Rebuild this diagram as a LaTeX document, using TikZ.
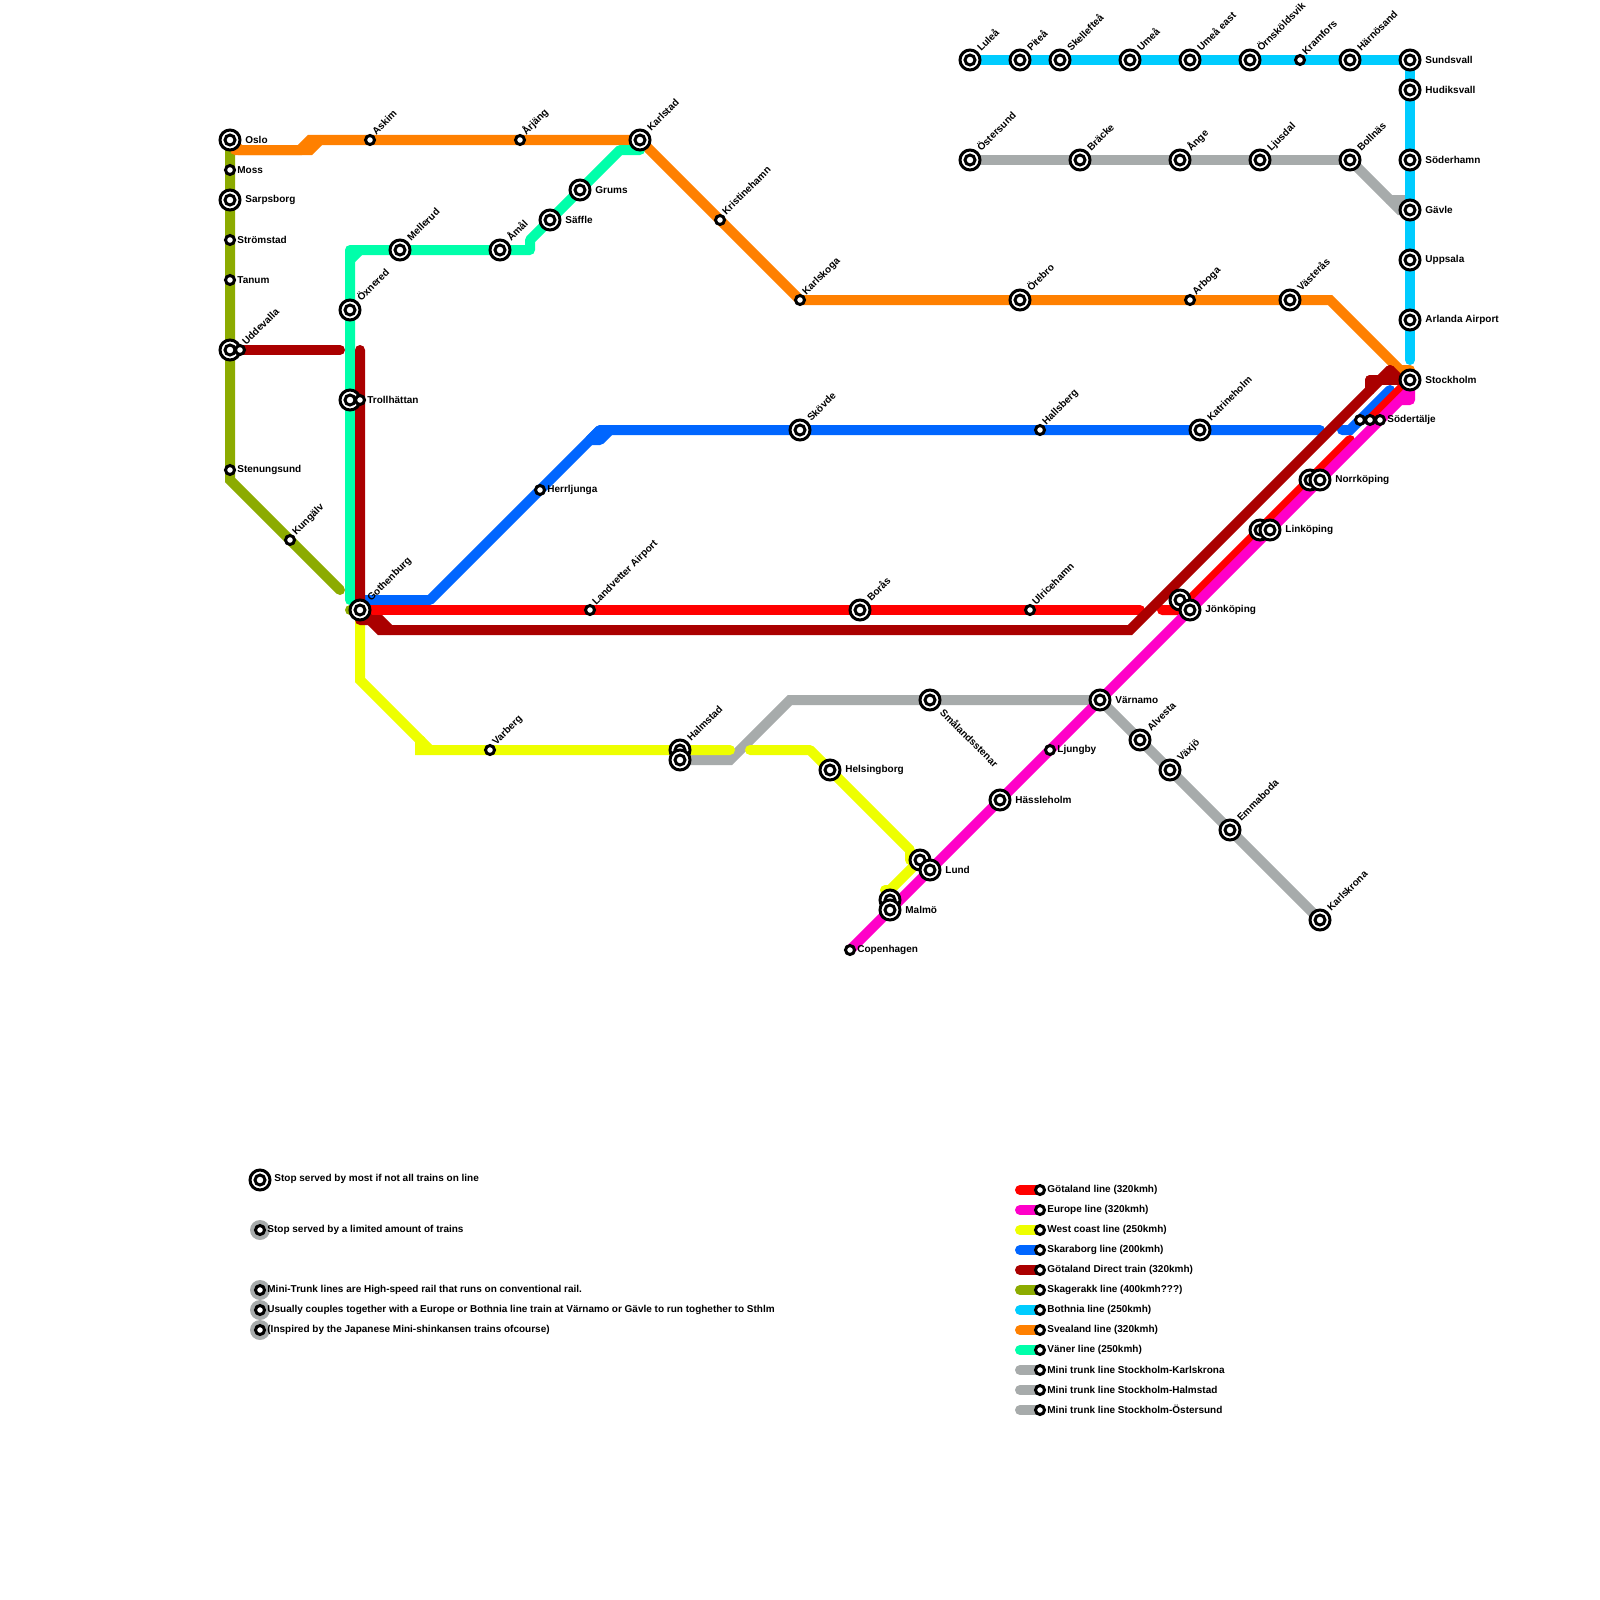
\documentclass[tikz,border=0pt]{standalone}
\usepackage{fontspec}
\usetikzlibrary{calc}
\setmainfont{Liberation Sans}
\definecolor{cRed}{HTML}{FF0000}
\definecolor{cMag}{HTML}{FF00C8}
\definecolor{cYel}{HTML}{EEFF00}
\definecolor{cBlu}{HTML}{0066FF}
\definecolor{cDrd}{HTML}{AA0000}
\definecolor{cOli}{HTML}{8CAB00}
\definecolor{cCya}{HTML}{00CCFF}
\definecolor{cOra}{HTML}{FF8000}
\definecolor{cGrn}{HTML}{00FFAA}
\definecolor{cGry}{HTML}{A7ABAB}
\tikzset{
  route/.style={line width=5pt,line cap=round,line join=miter},
  soft/.style={line join=round},
  bigstop/.style={circle,draw=black,fill=white,line width=1.5pt,minimum size=10pt,inner sep=0pt,outer sep=0pt},
  bigcore/.style={circle,draw=black,fill=white,line width=1.5pt,minimum size=5pt,inner sep=0pt,outer sep=0pt},
  smallstop/.style={circle,draw=black,fill=white,line width=1.5pt,minimum size=4.5pt,inner sep=0pt,outer sep=0pt},
  halo/.style={circle,fill=cGry,minimum size=10pt,inner sep=0pt,outer sep=0pt},
  txt/.style={font=\fontsize{5}{6}\selectfont\bfseries,inner sep=0pt,text=black},
  ltxt/.style={txt,anchor=west},
  rtxt/.style={txt,anchor=base west,rotate=45},
  dtxt/.style={txt,anchor=base west,rotate=-45}
}
\begin{document}
\begin{tikzpicture}[x=0.5pt,y=-0.5pt]
\useasboundingbox (0,0) rectangle (1600,1600);
% stations
\foreach \n/\x/\y in {oslo/230/140,moss/230/170,sarp/230/200,strom/230/240,tanum/230/280,udde/230/350,uddeb/240/350,sten/230/470,kung/290/540,
 askim/370/140,arjang/520/140,karlstad/640/140,krist/720/220,karlsk/800/300,orebro/1020/300,arboga/1190/300,vast/1290/300,
 oxne/350/310,troll/350/400,trollb/360/400,mell/400/250,amal/500/250,saffle/550/220,grums/580/190,
 goth/360/610,herr/540/490,skov/800/430,halls/1040/430,katr/1200/430,sod1/1360/420,sod2/1370/420,sod3/1380/420,
 land/590/610,boras/860/610,ulri/1030/610,jonka/1180/600,jonk/1190/610,linka/1260/530,link/1270/530,norra/1310/480,norr/1320/480,sthlm/1410/380,
 varb/490/750,halma/680/750,halm/680/760,helsing/830/770,lunda/920/860,lund/930/870,malma/890/900,malm/890/910,cop/850/950,
 hassle/1000/800,varn/1100/700,ljung/1050/750,small/930/700,alv/1140/740,vaxjo/1170/770,emma/1230/830,karlsk2/1320/920,
 lulea/970/60,pitea/1020/60,skell/1060/60,umea/1130/60,umeae/1190/60,ornsk/1250/60,kram/1300/60,harn/1350/60,sund/1410/60,
 hudik/1410/90,soder/1410/160,gavle/1410/210,upps/1410/260,arl/1410/320,
 ost/970/160,brack/1080/160,ange/1180/160,ljus/1260/160,boll/1350/160}
 {\coordinate (\n) at (\x,\y);}
% bends
\foreach \n/\x/\y in {o1/240/150,o1b/235/150,o2/300/150,o3/310/140,o4/310/150,o5/320/140,o6/1330/300,o7/1400/370,o8/1410/370,
 g1/350/600,g2/350/250,g3/350/260,g4/360/250,g5/530/250,g6/530/240,g7/620/150,g8/640/150,
 k1/230/480,k2/340/590,k3/350/610,
 d1/340/350,d2/360/350,d3/360/610,d4/370/620,d5/380/630,d6/1130/630,d7/1390/370,d8/1400/380,d9/360/620,d10/380/620,d11/390/630,d12/1370/380,d13/1370/390,
 r1/1140/610,r2/1162/610,r3/1180/610,r4/1350/440,r5/1370/420,
 b1/360/600,b2/430/600,b3/600/430,b4/590/440,b5/600/440,b6/610/430,b7/1320/430,b8/1342/430,b9/1350/430,b10/1390/390,
 m1/1400/400,m2/1410/400,m3/1410/380,m4/1410/390,
 y1/360/680,y2/420/740,y3/420/750,y4/430/750,y5/730/750,y6/750/750,y7/810/750,y8/910/850,y9/910/860,y10/920/860,y11/890/890,y12/885/890,
 a1/730/760,a2/790/700,c1/1400/210,c2/1390/200,c3/1405/200,e1/1410/360}
 {\coordinate (\n) at (\x,\y);}
% lines
\draw[route,cGry] (boll)--(ost);
\draw[route,cGry] (boll)--(c1)--(gavle);
\draw[route,cGry] (c2)--(c3);
\draw[route,cGry] (halm)--(a1)--(a2)--(varn)--(karlsk2);
\draw[route,cCya] (lulea)--(sund)--(e1);
\draw[route,cOli] (oslo)--(k1)--(k2);
\draw[route,cOli] (k3)--(goth);
\draw[route,cOra] (oslo)--(o1)--(o2)--(o3)--(karlstad)--(karlsk)--(o6)--(o7)--(o8);
\draw[route,cOra] (o1b)--(o4)--(o5);
\draw[route,soft,cGrn] (g1)--(g2)--(g5)--(g6)--(g7)--(g8);
\draw[route,cGrn] (g3)--(g4);
\draw[route,soft,cBlu] (b1)--(b2)--(b3)--(b7);
\draw[route,soft,cBlu] (b3)--(b4)--(b5)--(b6);
\draw[route,cBlu] (b8)--(b9)--(b10);
\draw[route,cYel] (goth)--(y1)--(y2)--(y3)--(y5);
\draw[route,cYel] (y2)--(y4);
\draw[route,soft,cYel] (y6)--(y7)--(y8)--(y9)--(y10)--(y11)--(y12);
\draw[route,cRed] (goth)--(r1);
\draw[route,cRed] (r2)--(r3)--(r4);
\draw[route,cRed] (r5)--(sthlm);
\draw[route,soft,cMag] (cop)--(m1)--(m2)--(m3);
\draw[route,cMag] (m1)--(m4);
\draw[route,cDrd] (uddeb)--(d1);
\draw[route,cDrd] (d2)--(d3)--(d4)--(d5)--(d6)--(d7);
\draw[route,cDrd] (d7)--(d8);
\draw[route,cDrd] (d9)--(d10)--(d11);
\draw[route,cDrd] (d12)--(sthlm);
\draw[route,cDrd] (d12)--(d13);
% big stops
\foreach \n in {oslo,sarp,udde,troll,oxne,mell,amal,saffle,grums,karlstad,orebro,vast,goth,skov,katr,boras,jonka,jonk,linka,link,norra,norr,sthlm,halma,halm,helsing,lunda,lund,malma,malm,hassle,varn,small,alv,vaxjo,emma,karlsk2,lulea,pitea,skell,umea,umeae,ornsk,harn,sund,hudik,soder,gavle,upps,arl,ost,brack,ange,ljus,boll}
 {\node[bigstop] (s-\n) at (\n) {}; \node[bigcore] (c-\n) at (\n) {};}
% small stops
\foreach \n in {moss,strom,tanum,uddeb,sten,kung,askim,arjang,krist,karlsk,trollb,herr,halls,sod1,sod2,sod3,land,ulri,varb,cop,ljung,arboga,kram}
 {\node[smallstop] (s-\n) at (\n) {};}
% labels: right of a big stop
\foreach \n/\t in {oslo/Oslo,sarp/Sarpsborg,grums/Grums,saffle/Säffle,jonk/Jönköping,link/Linköping,norr/Norrköping,sthlm/Stockholm,helsing/Helsingborg,lund/Lund,malm/Malmö,hassle/Hässleholm,varn/Värnamo,sund/Sundsvall,hudik/Hudiksvall,soder/Söderhamn,gavle/Gävle,upps/Uppsala,arl/Arlanda Airport}
 {\node[ltxt] (l-\n) at ($(\n)+(15,0)$) {\t};}
% labels: right of a small stop
\foreach \n/\t in {moss/Moss,strom/Strömstad,tanum/Tanum,sten/Stenungsund,trollb/Trollhättan,herr/Herrljunga,sod3/Södertälje,ljung/Ljungby,cop/Copenhagen}
 {\node[ltxt] (l-\n) at ($(\n)+(7,0)$) {\t};}
% labels: rotated, big stop
\foreach \n/\t in {oxne/Öxnered,mell/Mellerud,amal/Åmål,karlstad/Karlstad,orebro/Örebro,vast/Västerås,goth/Gothenburg,skov/Skövde,katr/Katrineholm,boras/Borås,halma/Halmstad,alv/Alvesta,vaxjo/Växjö,emma/Emmaboda,karlsk2/Karlskrona,lulea/Luleå,pitea/Piteå,skell/Skellefteå,umea/Umeå,umeae/Umeå east,ornsk/Örnsköldsvik,harn/Härnösand,ost/Östersund,brack/Bräcke,ange/Ånge,ljus/Ljusdal,boll/Bollnäs}
 {\node[rtxt] (l-\n) at ($(\n)+(11,-8)$) {\t};}
% labels: rotated, small stop
\foreach \n/\t in {uddeb/Uddevalla,kung/Kungälv,askim/Askim,arjang/Årjäng,krist/Kristinehamn,karlsk/Karlskoga,halls/Hallsberg,land/Landvetter Airport,ulri/Ulricehamn,varb/Varberg,arboga/Arboga,kram/Kramfors}
 {\node[rtxt] (l-\n) at ($(\n)+(6,-4)$) {\t};}
\node[dtxt] (l-small) at ($(small)+(9,13)$) {Smålandsstenar};
% legend
\node[bigstop] (key1) at (260,1180) {}; \node[bigcore] (key1c) at (260,1180) {};
\node[ltxt] (key1t) at (274,1179) {Stop served by most if not all trains on line};
\foreach \i/\y/\t in {2/1230/Stop served by a limited amount of trains,3/1290/Mini-Trunk lines are High-speed rail that runs on conventional rail.,4/1310/Usually couples together with a Europe or Bothnia line train at Värnamo or Gävle to run toghether to Sthlm,5/1330/(Inspired by the Japanese Mini-shinkansen trains ofcourse)}
 {\node[halo] (h\i) at (260,\y) {}; \node[smallstop] (key\i) at (260,\y) {}; \node[ltxt] (key\i t) at (267,\y-0.5) {\t};}
\foreach \i/\y/\c/\t in {a/1190/cRed/Götaland line (320kmh),b/1210/cMag/Europe line (320kmh),c/1230/cYel/West coast line (250kmh),d/1250/cBlu/Skaraborg line (200kmh),e/1270/cDrd/Götaland Direct train (320kmh),f/1290/cOli/Skagerakk line (400kmh???),g/1310/cCya/Bothnia line (250kmh),h/1330/cOra/Svealand line (320kmh),i/1350/cGrn/Väner line (250kmh),j/1370/cGry/Mini trunk line Stockholm-Karlskrona,k/1390/cGry/Mini trunk line Stockholm-Halmstad,l/1410/cGry/Mini trunk line Stockholm-Östersund}
 {\coordinate (ls\i) at (1020,\y);
  \coordinate (le\i) at (1040,\y);
  \draw[route,\c] (ls\i)--(le\i);
  \node[smallstop] (lk\i) at (le\i) {};
  \node[ltxt] (lt\i) at (1047,\y-0.5) {\t};}
\end{tikzpicture}
\end{document}
